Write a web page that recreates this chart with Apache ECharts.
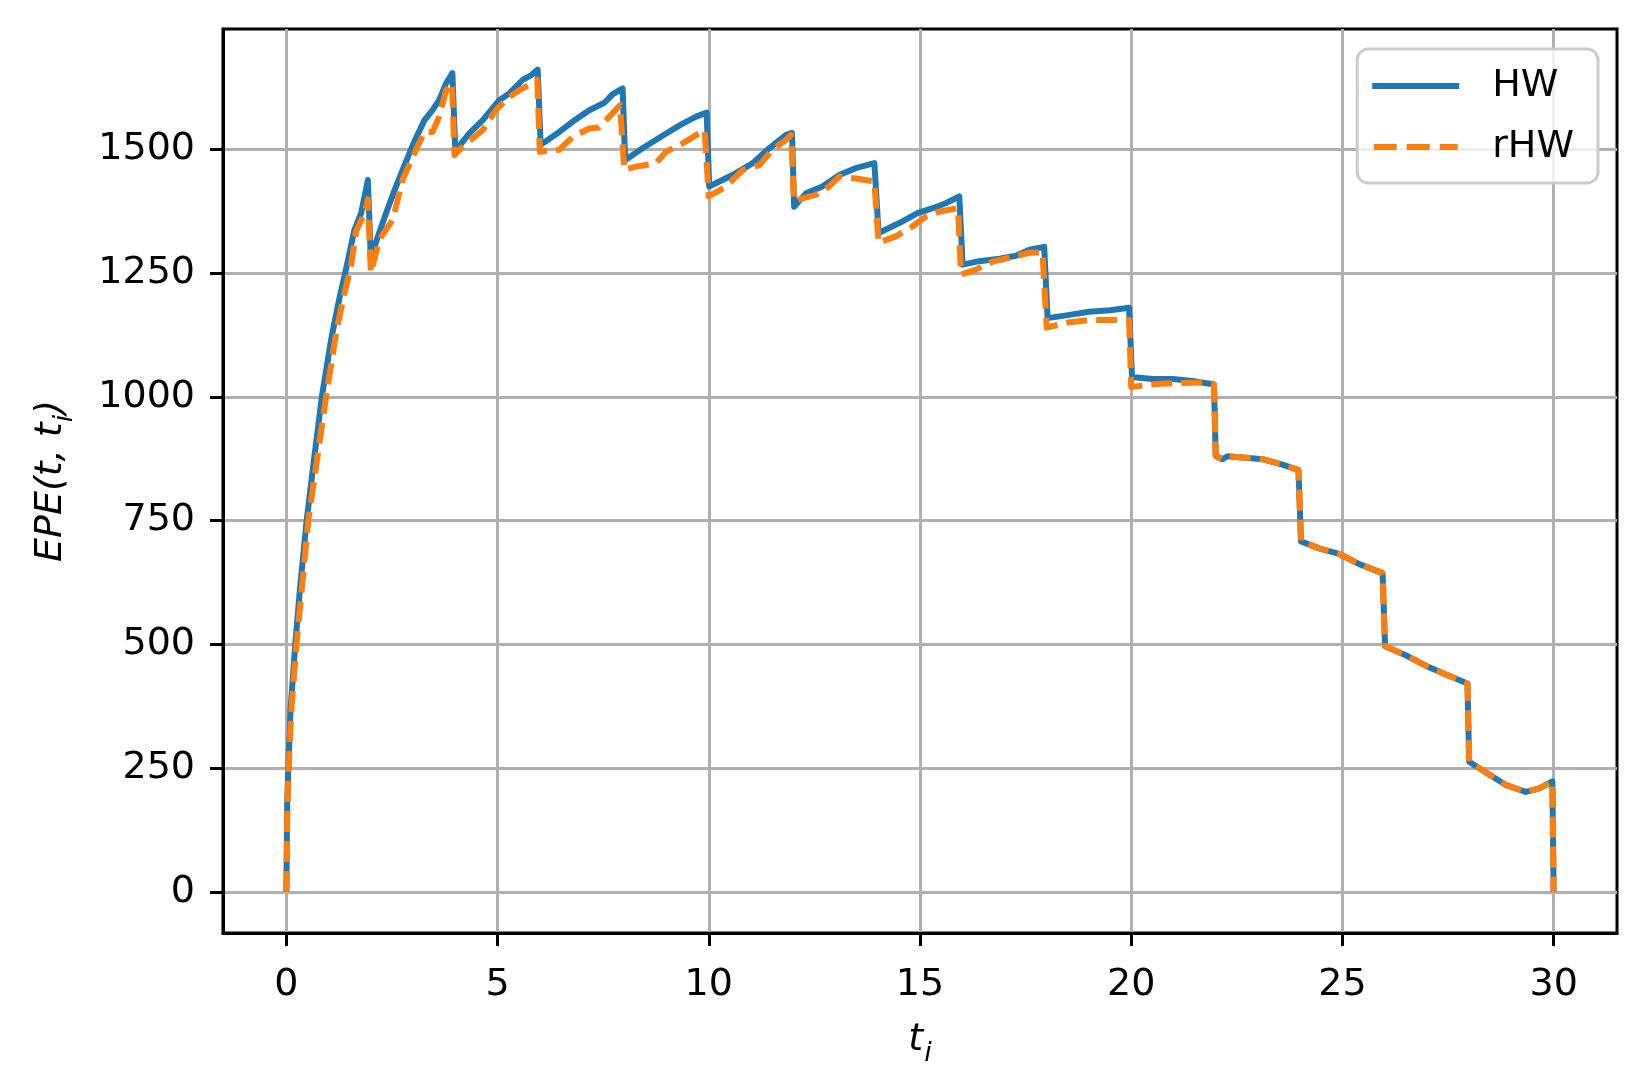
<!DOCTYPE html>
<html>
<head>
<meta charset="utf-8">
<script src="https://cdn.jsdelivr.net/npm/echarts@6/dist/echarts.min.js"></script>
<style>
html,body{margin:0;padding:0;background:#fff;}
#chart{width:1648px;height:1091px;}
</style>
</head>
<body>
<div id="chart"></div>
<script>
// ---- data ----
const xTicks = [0, 5, 10, 15, 20, 25, 30];
const yTicks = [0, 250, 500, 750, 1000, 1250, 1500];
const seriesNames = ['HW', 'rHW'];

const hwT = [0, 0.02, 0.05, 0.1, 0.21, 0.33, 0.48, 0.65, 0.84, 1.06, 1.25, 1.41, 1.61, 1.77, 1.93,
  2.0, 2.15, 2.36, 2.55, 2.75, 3.0, 3.27, 3.46, 3.62, 3.78, 3.93,
  4.0, 4.17, 4.33, 4.65, 5.04, 5.28, 5.59, 5.8, 5.95,
  6.02, 6.07, 6.46, 6.78, 7.17, 7.53, 7.72, 7.96,
  8.02, 8.43, 8.99, 9.38, 9.7, 9.95,
  10.01, 10.56, 11.04, 11.43, 11.83, 11.97,
  12.02, 12.3, 12.69, 13.09, 13.48, 13.92,
  14.02, 14.51, 14.94, 15.3, 15.61, 15.93,
  16.01, 16.4, 16.88, 17.27, 17.59, 17.94,
  18.02, 18.5, 19.0, 19.5, 19.95,
  20.02, 20.5, 20.98, 21.45, 21.96,
  22.0, 22.16, 22.28, 22.71, 23.11, 23.58, 23.96,
  24.02, 24.45, 24.92, 25.4, 25.95,
  26.01, 26.5, 26.97, 27.45, 27.96,
  28.0, 28.4, 28.87, 29.34, 29.66, 29.97, 30.0];
const hwV = [0, 180, 260, 370, 500, 620, 750, 870, 1000, 1116, 1197, 1257, 1337, 1371, 1438,
  1277, 1320, 1371, 1415, 1458, 1510, 1559, 1579, 1600, 1633, 1654,
  1495, 1515, 1532, 1559, 1599, 1613, 1640, 1650, 1661,
  1509, 1512, 1535, 1556, 1579, 1594, 1611, 1623,
  1478, 1502, 1532, 1552, 1566, 1574,
  1425, 1448, 1472, 1502, 1529, 1533,
  1384, 1411, 1425, 1448, 1462, 1472,
  1331, 1351, 1371, 1381, 1391, 1405,
  1267, 1274, 1279, 1285, 1297, 1303,
  1159, 1165, 1172, 1175, 1180,
  1040, 1036, 1036, 1032, 1025,
  881, 874, 880, 877, 874, 863, 852,
  708, 694, 683, 662, 644,
  496, 478, 457, 439, 421,
  263, 241, 216, 202, 209, 223, 0];

const rhwT = [0, 0.02, 0.06, 0.12, 0.24, 0.52, 0.94, 1.18, 1.35, 1.53, 1.65, 1.85, 1.93,
  2.0, 2.2, 2.52, 2.75, 3.07, 3.27, 3.46, 3.62, 3.78, 3.92,
  3.98, 4.17, 4.41, 4.65, 4.96, 5.28, 5.51, 5.87, 5.94,
  6.0, 6.46, 6.78, 7.17, 7.4, 7.68, 7.9,
  8.0, 8.28, 8.75, 8.99, 9.38, 9.9,
  10.0, 10.41, 10.8, 11.2, 11.51, 11.83, 11.95,
  12.02, 12.22, 12.54, 12.85, 13.09, 13.48, 13.92,
  14.02, 14.43, 14.82, 15.14, 15.46, 15.69, 15.9,
  15.97, 16.32, 16.72, 17.11, 17.59, 17.9,
  18.0, 18.5, 19.0, 19.5, 19.95,
  20.0, 20.19, 20.6, 21.2, 21.77, 21.96,
  22.0, 22.16, 22.28, 22.71, 23.11, 23.58, 23.96,
  24.02, 24.45, 24.92, 25.4, 25.95,
  26.01, 26.5, 26.97, 27.45, 27.96,
  28.0, 28.4, 28.87, 29.34, 29.66, 29.97, 30.0];
const rhwV = [0, 150, 260, 370, 500, 750, 1000, 1130, 1200, 1264, 1334, 1371, 1399,
  1250, 1317, 1358, 1438, 1499, 1535, 1535, 1566, 1619, 1633,
  1488, 1505, 1522, 1539, 1579, 1606, 1619, 1636, 1640,
  1495, 1499, 1525, 1542, 1544, 1569, 1589,
  1458, 1465, 1472, 1495, 1512, 1539,
  1405, 1425, 1458, 1468, 1499, 1519, 1529,
  1395, 1401, 1408, 1425, 1445, 1441, 1435,
  1311, 1324, 1344, 1364, 1374, 1378, 1381,
  1247, 1257, 1273, 1281, 1291, 1292,
  1140, 1150, 1155, 1155, 1155,
  1020, 1022, 1026, 1028, 1029, 1025,
  881, 874, 880, 877, 874, 863, 852,
  708, 694, 683, 662, 644,
  496, 478, 457, 439, 421,
  263, 241, 216, 202, 209, 223, 0];

// ---- chart ----
const pairs = (t, v) => t.map((x, i) => [x, v[i]]);
const FONT = 'DejaVu Sans';
const chart = echarts.init(document.getElementById('chart'), null, {renderer: 'canvas'});

const solidIcon = 'path://M0,0H89V6H0Z';
const dashIcon = 'path://M0,0H23V6H0Z M33,0H56V6H33Z M66,0H84V6H66Z';

chart.setOption({
  animation: false,
  backgroundColor: '#ffffff',
  textStyle: {fontFamily: FONT},
  grid: {
    left: 223, right: 31, top: 29, bottom: 158,
    show: true, borderColor: '#000', borderWidth: 3, backgroundColor: 'transparent'
  },
  legend: {
    orient: 'vertical',
    right: 50, top: 49,
    padding: [18, 24, 17, 15],
    itemWidth: 87, itemHeight: 6, itemGap: 23,
    backgroundColor: 'rgba(255,255,255,0.8)',
    borderColor: '#cccccc', borderWidth: 3, borderRadius: 11,
    textStyle: {fontFamily: FONT, fontSize: 38, color: '#000', padding: [0, 0, 0, 28]},
    data: [
      {name: seriesNames[0], icon: solidIcon},
      {name: seriesNames[1], icon: dashIcon}
    ]
  },
  xAxis: {
    type: 'value', min: -1.5, max: 31.5,
    name: '{t|t}{s|i}',
    nameLocation: 'middle', nameGap: 88,
    nameTextStyle: {
      rich: {
        t: {fontFamily: FONT, fontSize: 38, fontStyle: 'italic', color: '#000', lineHeight: 46, verticalAlign: 'top'},
        s: {fontFamily: FONT, fontSize: 27, fontStyle: 'italic', color: '#000', lineHeight: 27, verticalAlign: 'bottom', padding: [0,0,0,1]}
      }
    },
    axisLine: {show: true, onZero: false, lineStyle: {color: '#000', width: 3}},
    axisTick: {show: true, inside: false, length: 13, lineStyle: {color: '#000', width: 3}, customValues: xTicks},
    axisLabel: {fontFamily: FONT, fontSize: 38, color: '#000', margin: 33, customValues: xTicks,
      formatter: v => String(v)},
    splitLine: {show: true, lineStyle: {color: '#b0b0b0', width: 3}}
  },
  yAxis: {
    type: 'value', min: -83, max: 1743,
    name: '{t|EPE(t, t}{s|i}{t|)}',
    nameLocation: 'middle', nameGap: 145, nameRotate: 90,
    nameTextStyle: {
      rich: {
        t: {fontFamily: FONT, fontSize: 38, fontStyle: 'italic', color: '#000', lineHeight: 46, verticalAlign: 'top'},
        s: {fontFamily: FONT, fontSize: 27, fontStyle: 'italic', color: '#000', lineHeight: 27, verticalAlign: 'bottom'}
      }
    },
    axisLine: {show: true, onZero: false, lineStyle: {color: '#000', width: 3}},
    axisTick: {show: true, inside: false, length: 13, lineStyle: {color: '#000', width: 3}, customValues: yTicks},
    axisLabel: {fontFamily: FONT, fontSize: 38, color: '#000', margin: 28, customValues: yTicks,
      formatter: v => String(v)},
    splitLine: {show: true, lineStyle: {color: '#b0b0b0', width: 3}}
  },
  series: [
    {
      name: seriesNames[0], type: 'line', data: pairs(hwT, hwV),
      showSymbol: false, symbol: 'none', smooth: false,
      lineStyle: {color: '#1f77b4', width: 6, join: 'round'},
      itemStyle: {color: '#1f77b4'}
    },
    {
      name: seriesNames[1], type: 'line', data: pairs(rhwT, rhwV),
      showSymbol: false, symbol: 'none', smooth: false,
      lineStyle: {color: '#ff7f0e', width: 6, type: [21, 9], join: 'round'},
      itemStyle: {color: '#ff7f0e'}
    }
  ]
});
</script>
</body>
</html>
